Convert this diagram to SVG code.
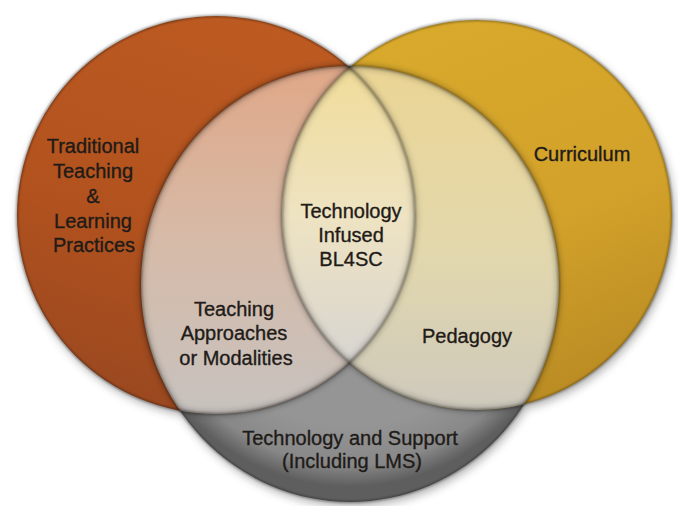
<svg xmlns="http://www.w3.org/2000/svg" width="678" height="506" viewBox="0 0 678 506">
<defs>
<style>
.lbl{font-family:"Liberation Sans",Arial,Helvetica,sans-serif;font-size:20px;fill:#1f1b18;stroke:#1f1b18;stroke-width:0.35;text-anchor:middle}
.edge{fill:none;stroke:#000;stroke-opacity:.4;stroke-width:2;filter:url(#soft)}
.edgew{fill:none;stroke:#000;stroke-opacity:.16;stroke-width:7;filter:url(#soft3)}
</style>
<filter id="soft" x="-10%" y="-10%" width="120%" height="120%"><feGaussianBlur stdDeviation="0.9"/></filter>
<filter id="soft3" x="-10%" y="-10%" width="120%" height="120%"><feGaussianBlur stdDeviation="2.5"/></filter>
<filter id="shadow" x="-10%" y="-10%" width="120%" height="120%"><feGaussianBlur stdDeviation="5"/></filter>
<clipPath id="clipL"><circle cx="216" cy="215" r="199"/></clipPath>
<clipPath id="clipR"><circle cx="477" cy="215" r="195"/></clipPath>
<clipPath id="clipB"><ellipse cx="350" cy="284" rx="209" ry="218"/></clipPath>
<linearGradient id="gOrange" gradientUnits="userSpaceOnUse" x1="260" y1="20" x2="140" y2="410">
<stop offset="0" stop-color="#BC5A21"/><stop offset="0.55" stop-color="#B2521E"/><stop offset="1" stop-color="#9A4820"/>
</linearGradient>
<linearGradient id="gYellow" gradientUnits="userSpaceOnUse" x1="440" y1="20" x2="600" y2="410">
<stop offset="0" stop-color="#D8A92B"/><stop offset="0.55" stop-color="#D2A12A"/><stop offset="1" stop-color="#B68822"/>
</linearGradient>
<radialGradient id="gGray" cx="0.5" cy="0.42" r="0.55">
<stop offset="0.74" stop-color="#959595"/><stop offset="0.9" stop-color="#888888"/><stop offset="0.99" stop-color="#5e5e5e"/>
</radialGradient>
<linearGradient id="gLensL" gradientUnits="userSpaceOnUse" x1="0" y1="80" x2="0" y2="412">
<stop offset="0" stop-color="#DFA98A"/><stop offset="0.5" stop-color="#D6BBA9"/><stop offset="1" stop-color="#C7C2BE"/>
</linearGradient>
<linearGradient id="gLensR" gradientUnits="userSpaceOnUse" x1="0" y1="80" x2="0" y2="414">
<stop offset="0" stop-color="#EAD596"/><stop offset="0.5" stop-color="#E3D8AC"/><stop offset="1" stop-color="#CDC9BD"/>
</linearGradient>
<linearGradient id="gLensC" gradientUnits="userSpaceOnUse" x1="0" y1="70" x2="0" y2="363">
<stop offset="0" stop-color="#F0DC9A"/><stop offset="0.5" stop-color="#EEE3C2"/><stop offset="1" stop-color="#D8D5D1"/>
</linearGradient>
</defs>
<rect width="678" height="506" fill="#FFFFFF"/>
<g id="shadow" filter="url(#shadow)" opacity="0.4" transform="translate(2,4)" fill="#333">
<circle cx="216" cy="215" r="199"/><circle cx="477" cy="215" r="195"/><ellipse cx="350" cy="284" rx="209" ry="218"/>
</g>
<g id="technology-support">
<ellipse cx="350" cy="284" rx="209" ry="218" fill="url(#gGray)"/>
<text class="lbl"><tspan x="350" y="445">Technology and Support</tspan><tspan x="352" y="468">(Including LMS)</tspan></text>
</g>
<g id="traditional">
<circle cx="216" cy="215" r="199" fill="url(#gOrange)"/>
<text class="lbl"><tspan x="93" y="153">Traditional</tspan><tspan x="93" y="178">Teaching</tspan><tspan x="93" y="203">&amp;</tspan><tspan x="93" y="228">Learning</tspan><tspan x="94" y="252">Practices</tspan></text>
</g>
<g id="curriculum">
<circle cx="477" cy="215" r="195" fill="url(#gYellow)"/>
<text class="lbl"><tspan x="582" y="161">Curriculum</tspan></text>
</g>
<g id="teaching-approaches">
<g clip-path="url(#clipB)"><circle cx="216" cy="215" r="199" fill="url(#gLensL)"/></g>
<text class="lbl"><tspan x="234" y="316">Teaching</tspan><tspan x="234" y="340">Approaches</tspan><tspan x="236" y="365">or Modalities</tspan></text>
</g>
<g id="pedagogy">
<g clip-path="url(#clipB)"><circle cx="477" cy="215" r="195" fill="url(#gLensR)"/></g>
<text class="lbl"><tspan x="467" y="343">Pedagogy</tspan></text>
</g>
<g id="technology-infused">
<g clip-path="url(#clipB)"><g clip-path="url(#clipL)"><circle cx="477" cy="215" r="195" fill="url(#gLensC)"/></g></g>
<text class="lbl"><tspan x="351" y="218">Technology</tspan><tspan x="351" y="242">Infused</tspan><tspan x="351" y="266">BL4SC</tspan></text>
</g>
<g id="outlines">
<g clip-path="url(#clipL)"><ellipse class="edgew" cx="350" cy="284" rx="209" ry="218"/></g>
<g clip-path="url(#clipR)"><ellipse class="edgew" cx="350" cy="284" rx="209" ry="218"/></g>
<g clip-path="url(#clipB)"><circle class="edgew" cx="216" cy="215" r="199"/><circle class="edgew" cx="477" cy="215" r="195"/></g>
<ellipse class="edge" cx="350" cy="284" rx="209" ry="218"/>
<circle class="edge" cx="216" cy="215" r="199"/>
<circle class="edge" cx="477" cy="215" r="195"/>
</g>
<g id="connectors"/>
</svg>
